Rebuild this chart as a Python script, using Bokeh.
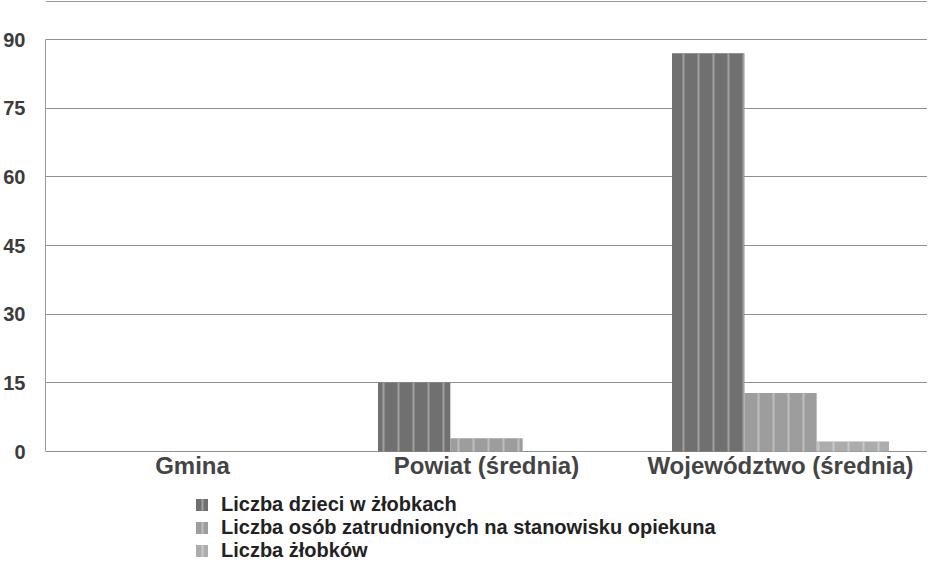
from bokeh.plotting import figure
from bokeh.models import ColumnDataSource, FixedTicker, Legend, LegendItem, Range1d, Span
from bokeh.core.properties import value
from bokeh.transform import dodge
from bokeh.embed import file_html
from bokeh.resources import INLINE

categories = ["Gmina", "Powiat (średnia)", "Województwo (średnia)"]
dzieci = [0, 15.0, 87.0]
opiekunowie = [0, 2.9, 12.8]
zlobki = [0, 0, 2.2]
y_ticks = [0, 15, 30, 45, 60, 75, 90]
series_names = ["Liczba dzieci w żłobkach",
                "Liczba osób zatrudnionych na stanowisku opiekuna",
                "Liczba żłobków"]

src = ColumnDataSource(dict(cat=categories, d=dzieci, o=opiekunowie, z=zlobki))

W, H = 927, 562
px_per_unit = 412 / 90.0
y_start = -(H - 451) / px_per_unit
y_end = 451 / px_per_unit

p = figure(x_range=categories, y_range=Range1d(y_start, y_end), width=W, height=H,
           output_backend="svg", toolbar_location=None,
           min_border_left=40, min_border_right=0, min_border_top=0, min_border_bottom=0)
p.outline_line_color = None
p.background_fill_color = "white"
p.border_fill_color = "white"
p.xaxis.visible = False

bw = 0.246
fills = ["#707070", "#9d9d9d", "#acacac"]
hatch = ["#a8a8a8", "#c4c4c4", "#cdcdcd"]
cols = ["d", "o", "z"]
offs = [-bw, 0.0, bw]
renderers = []
for c, off, f, h in zip(cols, offs, fills, hatch):
    r = p.vbar(x=dodge("cat", off, range=p.x_range), top=c, bottom=0, width=bw, source=src,
               fill_color=f, line_color=None,
               hatch_pattern="vertical_line", hatch_color=h, hatch_scale=15,
               hatch_weight=2, hatch_alpha=0.85)
    renderers.append(r)

# category labels under the zero line
p.text(x="cat", y=0, text="cat", source=src, text_align="center", text_baseline="top",
       y_offset=0, text_font=value("Liberation Sans"), text_font_style="bold",
       text_font_size="24px", text_color="#444444")

# top rule line
p.add_layout(Span(location=y_end - 1 / px_per_unit, dimension="width",
                  line_color="#9a9a9a", line_width=1))

p.yaxis.ticker = FixedTicker(ticks=y_ticks)
p.yaxis.bounds = (0, 90)
p.yaxis.major_tick_line_color = None
p.yaxis.minor_tick_line_color = None
p.yaxis.axis_line_color = "#9a9a9a"
p.yaxis.major_label_text_font = "Liberation Sans"
p.yaxis.major_label_text_font_style = "bold"
p.yaxis.major_label_text_font_size = "20px"
p.yaxis.major_label_text_color = "#3c3c3c"
p.yaxis.major_label_standoff = 14

p.xgrid.grid_line_color = None
p.ygrid.grid_line_color = "#8f8f8f"
p.ygrid.grid_line_width = 1
p.ygrid.ticker = FixedTicker(ticks=y_ticks)

legend = Legend(items=[LegendItem(label=n, renderers=[r]) for n, r in zip(series_names, renderers)],
                location=(149, 0), orientation="vertical",
                glyph_width=15, glyph_height=15, label_height=20, spacing=-2,
                label_standoff=12, padding=0, margin=0,
                border_line_color=None, background_fill_alpha=0,
                label_text_font="Liberation Sans", label_text_font_style="bold",
                label_text_font_size="20px", label_text_color="#222222")
p.add_layout(legend)

open("out.html", "w").write(file_html(p, INLINE))
